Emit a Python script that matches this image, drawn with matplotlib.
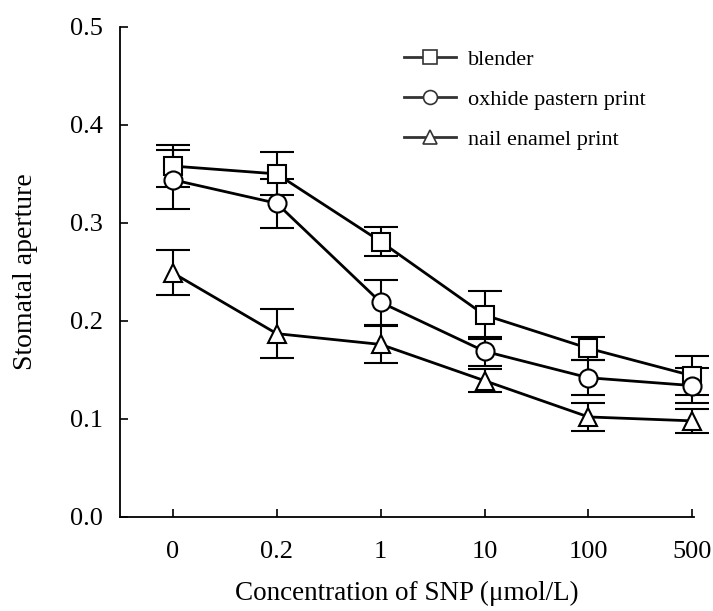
import matplotlib.pyplot as plt
from matplotlib.lines import Line2D

plt.rcParams['font.family'] = ['Liberation Serif', 'DejaVu Serif']

# SNP concentrations (categorical axis)
conc = ['0', '0.2', '1', '10', '100', '500']

blender = [0.358, 0.350, 0.281, 0.206, 0.172, 0.144]
blender_err = [0.021, 0.022, 0.015, 0.024, 0.012, 0.020]

oxhide = [0.344, 0.320, 0.219, 0.169, 0.142, 0.134]
oxhide_err = [0.030, 0.025, 0.023, 0.015, 0.018, 0.018]

nail = [0.249, 0.187, 0.176, 0.139, 0.102, 0.098]
nail_err = [0.023, 0.025, 0.019, 0.012, 0.014, 0.012]

series = [('blender', blender, blender_err, 's'),
          ('oxhide pastern print', oxhide, oxhide_err, 'o'),
          ('nail enamel print', nail, nail_err, '^')]

fig = plt.figure(figsize=(7.13, 6.11), dpi=100)
ax = fig.add_axes([0.168, 0.154, 0.806, 0.802])

x = list(range(len(conc)))
handles = []
for name, vals, err, mk in series:
    eb = ax.errorbar(x, vals, yerr=err, color='black', lw=2, marker=mk, ms=13,
                     mfc='white', mec='black', mew=1.5, ecolor='black',
                     elinewidth=1.5, capsize=12, capthick=1.5)
    # last column sits on the axis edge, don't cut the markers
    for art in [eb.lines[0]] + list(eb.lines[1]) + list(eb.lines[2]):
        art.set_clip_on(False)
    handles.append(Line2D([], [], color='#333333', lw=2, marker=mk, ms=10,
                          mfc='white', mec='#333333', mew=1.2, label=name))

ax.set_xlim(-0.51, 5.02)
ax.set_ylim(0, 0.5)
ax.set_xticks(x)
ax.set_xticklabels(conc)
ax.set_yticks([0.0, 0.1, 0.2, 0.3, 0.4, 0.5])
ax.set_yticklabels(['0.0', '0.1', '0.2', '0.3', '0.4', '0.5'])
ax.tick_params(direction='in', length=6, width=1.2, labelsize=19)
ax.tick_params(axis='x', pad=17)
ax.tick_params(axis='y', pad=12)
for s in ['top', 'right']:
    ax.spines[s].set_visible(False)
for s in ['left', 'bottom']:
    ax.spines[s].set_linewidth(1.3)

ax.set_xlabel('Concentration of SNP (\u03bcmol/L)', fontsize=19.5, labelpad=13)
ax.set_ylabel('Stomatal aperture', fontsize=20, labelpad=23)

fig.legend(handles=handles, loc='upper left', bbox_to_anchor=(0.551, 0.937),
           frameon=False, fontsize=16, handlelength=2.35, borderpad=0,
           labelspacing=0.87, handletextpad=0.55)

fig.savefig('out.png', dpi=100)
